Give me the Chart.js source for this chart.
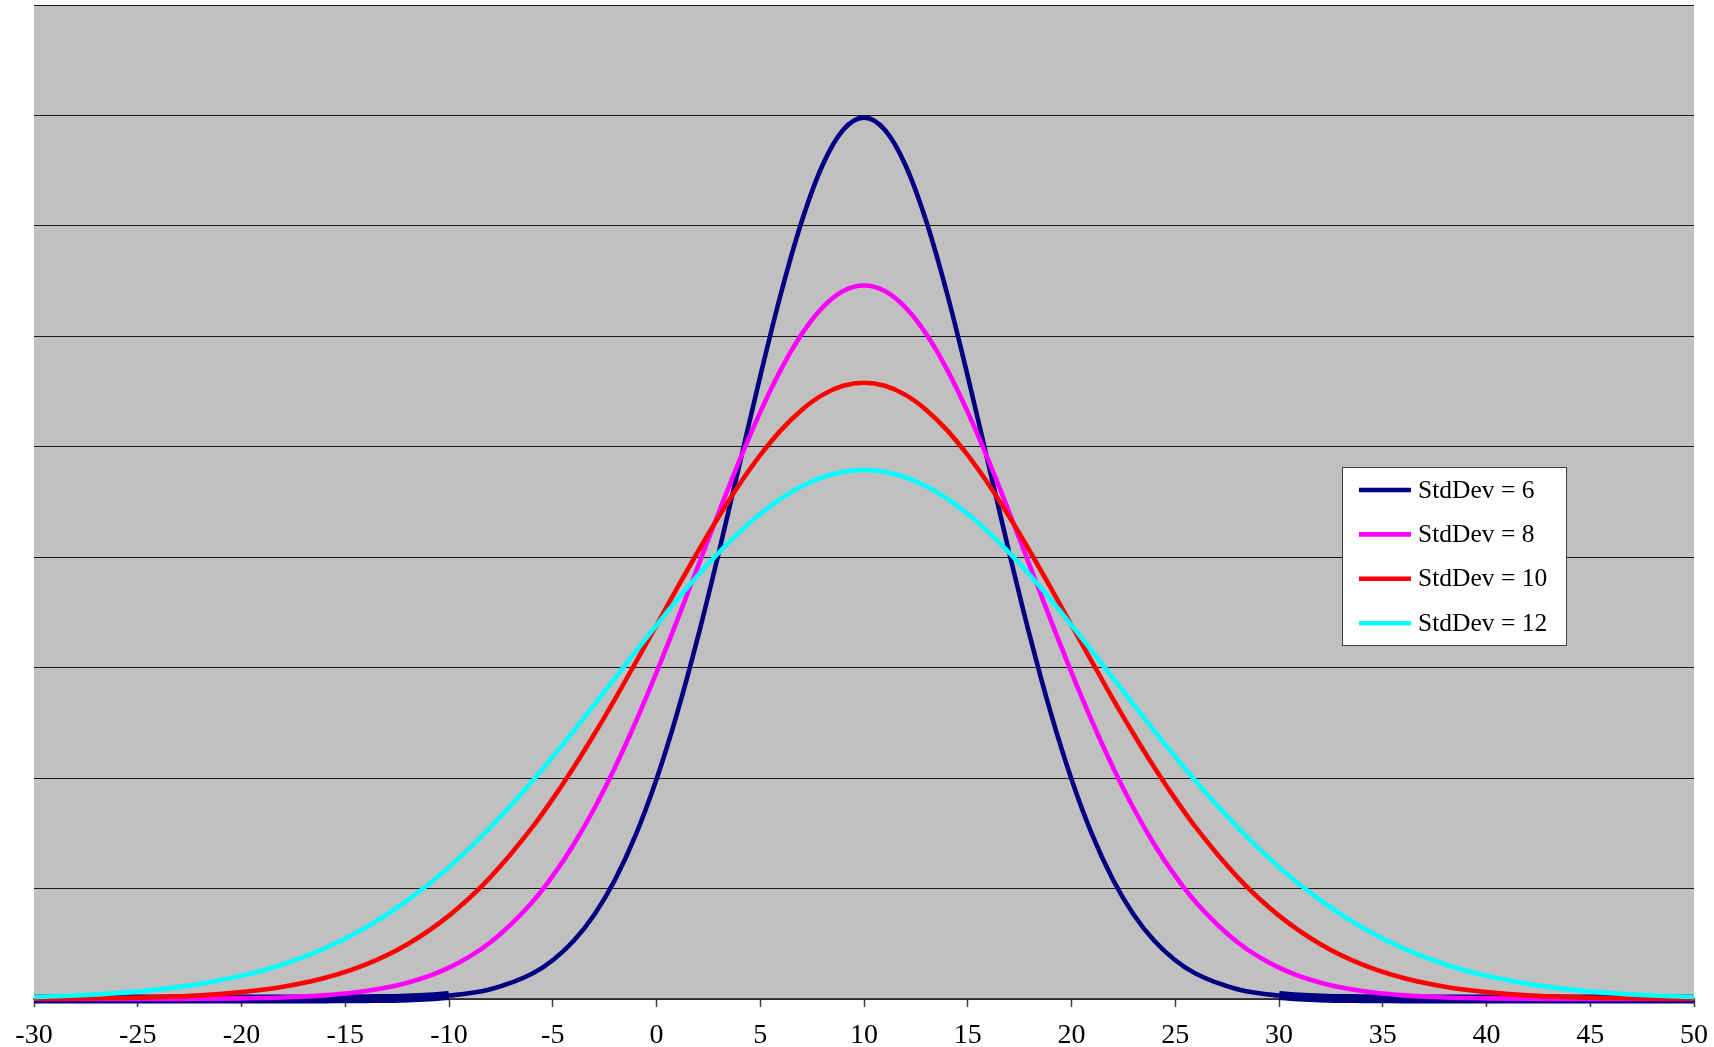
<!DOCTYPE html>
<html>
<head>
<meta charset="utf-8">
<title>StdDev curves</title>
<script src="https://cdn.jsdelivr.net/npm/chart.js@4/dist/chart.umd.min.js"></script>
<style>
  html, body { margin: 0; padding: 0; background: #ffffff; overflow: hidden; }
  #wrap { width: 1714px; height: 1047px; }
</style>
</head>
<body>
<div id="wrap"><canvas id="myChart"></canvas></div>
<script>
// x positions of the points (step 2 on the tails, step 1 in the middle)
var xValues = [-30, -28, -26, -24, -22, -20, -18, -16, -14, -12, -10, -8,
               -6, -5, -4, -3, -2, -1, 0, 1, 2, 3, 4, 5, 6, 7, 8, 9, 10,
               11, 12, 13, 14, 15, 16, 17, 18, 19, 20, 21, 22, 23, 24, 25, 26,
               28, 30, 32, 34, 36, 38, 40, 42, 44, 46, 48, 50];

// curve heights (one grid step = 1)
var stdDev6 = [0, 0, 0, 0, 0, 0, 0, 0.001, 0.003, 0.01, 0.031, 0.089,
               0.228, 0.351, 0.525, 0.763, 1.08, 1.486, 1.99, 2.591, 3.281, 4.041, 4.84, 5.639, 6.39, 7.042, 7.549, 7.87, 7.98,
               7.87, 7.549, 7.042, 6.39, 5.639, 4.84, 4.041, 3.281, 2.591, 1.99, 1.486, 1.08, 0.763, 0.525, 0.351, 0.228,
               0.089, 0.031, 0.01, 0.003, 0.001, 0, 0, 0, 0, 0, 0, 0];
var stdDev8 = [0, 0, 0, 0.001, 0.002, 0.006, 0.014, 0.033, 0.072, 0.147, 0.284, 0.514,
               0.874, 1.114, 1.397, 1.725, 2.097, 2.51, 2.958, 3.431, 3.918, 4.405, 4.876, 5.314, 5.701, 6.021, 6.261, 6.41, 6.46,
               6.41, 6.261, 6.021, 5.701, 5.314, 4.876, 4.405, 3.918, 3.431, 2.958, 2.51, 2.097, 1.725, 1.397, 1.114, 0.874,
               0.514, 0.284, 0.147, 0.072, 0.033, 0.014, 0.006, 0.002, 0.001, 0, 0, 0];
var stdDev10 = [0.002, 0.004, 0.009, 0.017, 0.033, 0.062, 0.111, 0.19, 0.313, 0.496, 0.755, 1.104,
                1.551, 1.812, 2.094, 2.397, 2.716, 3.047, 3.384, 3.722, 4.052, 4.367, 4.661, 4.924, 5.151, 5.334, 5.47, 5.552, 5.58,
                5.552, 5.47, 5.334, 5.151, 4.924, 4.661, 4.367, 4.052, 3.722, 3.384, 3.047, 2.716, 2.397, 2.094, 1.812, 1.551,
                1.104, 0.755, 0.496, 0.313, 0.19, 0.111, 0.062, 0.033, 0.017, 0.009, 0.004, 0.002];
var stdDev12 = [0.019, 0.032, 0.053, 0.087, 0.137, 0.21, 0.315, 0.458, 0.648, 0.892, 1.194, 1.555,
                1.969, 2.193, 2.425, 2.664, 2.905, 3.147, 3.385, 3.616, 3.836, 4.041, 4.227, 4.392, 4.531, 4.643, 4.724, 4.773, 4.79,
                4.773, 4.724, 4.643, 4.531, 4.392, 4.227, 4.041, 3.836, 3.616, 3.385, 3.147, 2.905, 2.664, 2.425, 2.193, 1.969,
                1.555, 1.194, 0.892, 0.648, 0.458, 0.315, 0.21, 0.137, 0.087, 0.053, 0.032, 0.019];

var seriesLabels = ['StdDev = 6', 'StdDev = 8', 'StdDev = 10', 'StdDev = 12'];
var seriesColors = ['#000080', '#ff00ff', '#ff0000', '#00ffff'];
var seriesValues = [stdDev6, stdDev8, stdDev10, stdDev12];

var xTickMin = -30;
var xTickMax = 50;
var xTickStep = 5;

// where the StdDev = 6 line lies flat on the axis (drawn as a heavy band there)
var flatLeftEnd = -10;
var flatRightStart = 30;

function toPoints(values) {
  return values.map(function (v, i) { return { x: xValues[i], y: v }; });
}

var datasets = [];
for (var i = 0; i < seriesValues.length; i++) {
  datasets.push({
    label: seriesLabels[i],
    data: toPoints(seriesValues[i]),
    borderColor: seriesColors[i],
    backgroundColor: seriesColors[i],
    borderWidth: 4.6,
    pointRadius: 0,
    fill: false,
    cubicInterpolationMode: 'monotone',
    clip: 6,
    // later series sit on top, like the original
    order: seriesValues.length - 1 - i
  });
}
// heavy flat tails of the first curve
datasets[0].segment = {
  borderWidth: function (c) {
    if (c.p1.parsed.x <= flatLeftEnd || c.p0.parsed.x >= flatRightStart) return 9;
    return undefined;
  }
};

// grey plot area
const plotBackground = {
  id: 'plotBackground',
  beforeDraw(chart, args, opts) {
    const { ctx, chartArea } = chart;
    ctx.save();
    ctx.fillStyle = opts.color;
    ctx.fillRect(chartArea.left, chartArea.top, chartArea.right - chartArea.left, chartArea.bottom - chartArea.top);
    ctx.restore();
  }
};

// boxed legend inside the plot area
const boxLegend = {
  id: 'boxLegend',
  afterDatasetsDraw(chart, args, opts) {
    const ctx = chart.ctx;
    ctx.save();
    ctx.fillStyle = '#ffffff';
    ctx.fillRect(opts.x, opts.y, opts.width, opts.height);
    ctx.strokeStyle = '#404040';
    ctx.lineWidth = 1;
    ctx.strokeRect(opts.x + 0.5, opts.y + 0.5, opts.width, opts.height);

    ctx.font = opts.fontSize + 'px "Liberation Serif", "Times New Roman", serif';
    ctx.textBaseline = 'alphabetic';
    ctx.textAlign = 'left';
    chart.data.datasets.forEach(function (ds, i) {
      const rowY = opts.firstRow + i * opts.rowGap;
      ctx.strokeStyle = ds.borderColor;
      ctx.lineWidth = 4.6;
      ctx.beginPath();
      ctx.moveTo(opts.x + 17, rowY);
      ctx.lineTo(opts.x + 69, rowY);
      ctx.stroke();
      ctx.fillStyle = '#000000';
      ctx.fillText(ds.label, opts.x + 76, rowY + 7.5);
    });
    ctx.restore();
  }
};

const ctx = document.getElementById('myChart');
const myChart = new Chart(ctx, {
  type: 'line',
  data: { datasets: datasets },
  options: {
    responsive: true,
    maintainAspectRatio: false,
    animation: false,
    layout: { padding: { top: 5, left: 34, right: 20, bottom: 0 } },
    plugins: {
      legend: { display: false },
      tooltip: { enabled: false },
      plotBackground: { color: '#c0c0c0' },
      boxLegend: { x: 1342, y: 467, width: 224, height: 178, firstRow: 490, rowGap: 44.4, fontSize: 25.5 }
    },
    scales: {
      x: {
        type: 'linear',
        min: xTickMin,
        max: xTickMax,
        ticks: {
          stepSize: xTickStep,
          color: '#000000',
          padding: 12,
          maxRotation: 0,
          autoSkip: false,
          font: { family: '"Liberation Serif", "Times New Roman", serif', size: 28 }
        },
        grid: { drawOnChartArea: false, drawTicks: true, tickLength: 8, tickColor: '#404040', tickWidth: 1.5 },
        border: { color: '#404040', width: 1.5 },
        afterFit: function (scale) {
          scale.height = 48;
          // the layout padding already leaves room for the end labels
          scale.paddingLeft = 0;
          scale.paddingRight = 0;
        }
      },
      y: {
        min: 0,
        max: 9,
        ticks: { display: false, stepSize: 1 },
        grid: { color: '#1a1a1a', lineWidth: 1, drawTicks: false },
        border: { display: false },
        afterFit: function (scale) { scale.width = 0; }
      }
    }
  },
  plugins: [plotBackground, boxLegend]
});
</script>
</body>
</html>
